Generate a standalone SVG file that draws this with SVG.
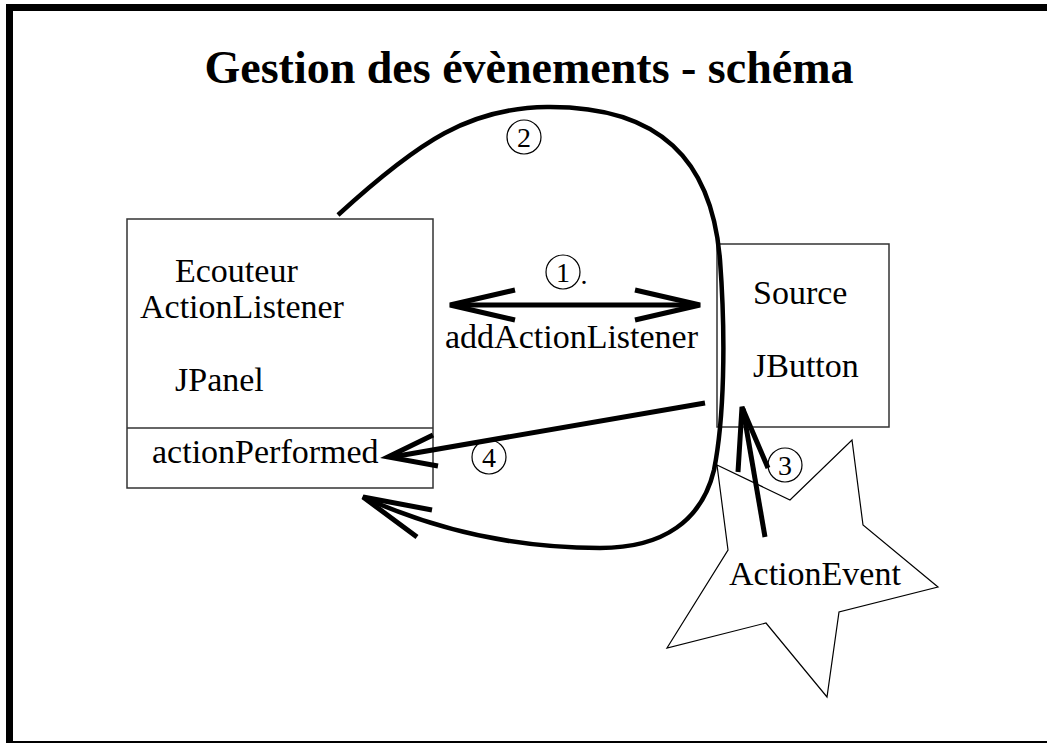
<svg xmlns="http://www.w3.org/2000/svg" width="1047" height="743" viewBox="0 0 1047 743">
  <style>
    .box { fill: #ffffff; stroke: #333333; stroke-width: 1.5; }
    .star { fill: #ffffff; stroke: #000000; stroke-width: 1.2; stroke-linejoin: miter; }
    .lbl { font-family: "Liberation Serif", "Times New Roman", serif; font-size: 34px; fill: #000000; }
    .num { font-family: "Liberation Serif", "Times New Roman", serif; font-size: 28px; fill: #000000; text-anchor: middle; }
    .ring { fill: none; stroke: #000000; stroke-width: 1.2; }
    .wire { fill: none; stroke: #000000; stroke-width: 5; stroke-linecap: butt; stroke-linejoin: miter; }
    .arc { fill: none; stroke: #000000; stroke-width: 4.5; }
  </style>

  <!-- page frame -->
  <rect x="0" y="0" width="1047" height="743" fill="#ffffff"/>
  <g id="frame" fill="#000000">
    <rect x="6" y="4" width="1041" height="7"/>
    <rect x="6" y="4" width="7" height="739"/>
    <rect x="13" y="741" width="1034" height="2"/>
  </g>

  <text id="title" x="529" y="83" text-anchor="middle" font-family="'Liberation Serif', 'Times New Roman', serif" font-size="46" font-weight="bold">Gestion des évènements - schéma</text>

  <!-- event object -->
  <g id="action-event">
    <polygon class="star" points="717,465 790,500 852,440 863,525 938,587 839,612 827,697 766,623 667,648 728,550"/>
    <text class="lbl" x="729" y="585">ActionEvent</text>
  </g>

  <!-- listener component -->
  <g id="listener">
    <rect class="box" x="127" y="219" width="306" height="269"/>
    <line x1="127" y1="428" x2="433" y2="428" stroke="#333333" stroke-width="1.5"/>
    <text class="lbl" x="175" y="282">Ecouteur</text>
    <text class="lbl" x="140" y="318">ActionListener</text>
    <text class="lbl" x="175" y="391">JPanel</text>
    <text class="lbl" x="152" y="463">actionPerformed</text>
  </g>

  <!-- source component -->
  <g id="source">
    <rect class="box" x="717" y="244" width="172" height="183"/>
    <text class="lbl" x="753" y="304">Source</text>
    <text class="lbl" x="753" y="377">JButton</text>
  </g>

  <g id="connectors">
    <!-- (1) registration -->
    <line class="wire" x1="452" y1="305" x2="698" y2="305"/>
    <polyline class="wire" points="515,290 450,305 515,320"/>
    <polyline class="wire" points="635,290 700,305 635,320"/>
    <text class="lbl" x="445" y="348">addActionListener</text>

    <!-- (2) callback loop -->
    <path class="arc" d="M338,215 C420,140 470,108 547,107 C660,106 712,160 720,260 C726,340 724,420 714,470 C702,520 664,548 600,548 C520,548 440,532 363,497"/>
    <polyline class="wire" points="432,510 363,497 417,537"/>

    <!-- (3) event fired -->
    <line class="wire" x1="765" y1="537" x2="743" y2="409"/>
    <polyline class="wire" points="738,472 742,407 768,468"/>

    <!-- (4) dispatch -->
    <line class="wire" x1="705" y1="403" x2="392" y2="457"/>
    <polyline class="wire" points="433,435 388,457 438,466"/>
  </g>

  <!-- step numbers -->
  <g id="steps">
    <circle class="ring" cx="563" cy="272" r="17"/>
    <text class="num" x="563" y="282">1</text>
    <text class="num" x="584" y="284" font-size="20">.</text>
    <circle class="ring" cx="524" cy="137" r="17"/>
    <text class="num" x="524" y="147">2</text>
    <circle class="ring" cx="785" cy="465" r="17"/>
    <text class="num" x="785" y="475">3</text>
    <circle class="ring" cx="489" cy="457" r="17"/>
    <text class="num" x="489" y="467">4</text>
  </g>
</svg>
